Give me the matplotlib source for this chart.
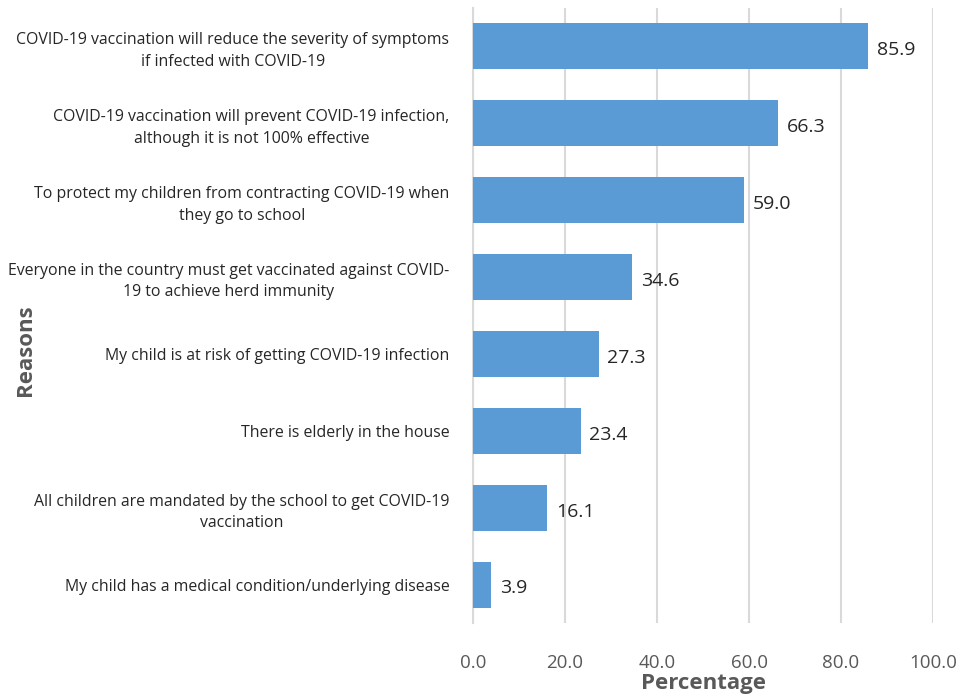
import matplotlib.pyplot as plt

plt.rcParams['font.family'] = ['Open Sans', 'DejaVu Sans']

reasons = [
    "COVID-19 vaccination will reduce the severity of symptoms\nif infected with COVID-19",
    "COVID-19 vaccination will prevent COVID-19 infection,\nalthough it is not 100% effective",
    "To protect my children from contracting COVID-19 when\nthey go to school",
    "Everyone in the country must get vaccinated against COVID-\n19 to achieve herd immunity",
    "My child is at risk of getting COVID-19 infection",
    "There is elderly in the house",
    "All children are mandated by the school to get COVID-19\nvaccination",
    "My child has a medical condition/underlying disease",
]
percent = [85.9, 66.3, 59.0, 34.6, 27.3, 23.4, 16.1, 3.9]
xticks = [0, 20, 40, 60, 80, 100]

fig = plt.figure(figsize=(9.62, 6.94), dpi=100)
ax = fig.add_axes([0.4917, 0.1023, 0.4782, 0.8862])

pos = list(range(len(reasons)))
ax.barh(pos, percent, height=0.6, color='#5b9bd5', zorder=3)
ax.set_ylim(len(reasons) - 0.5, -0.5)
ax.set_xlim(0, 100)

for p, v in zip(pos, percent):
    ax.text(v + 1.9, p + 0.05, f"{v:.1f}", va='center', ha='left',
            fontsize=14, color='#262626')

ax.set_yticks(pos)
ax.set_yticklabels(reasons, fontsize=11.4, color='#262626',
                   multialignment='center', linespacing=1.45)
ax.set_xticks(xticks)
ax.set_xticklabels([f"{t:.1f}" for t in xticks], fontsize=13.5, color='#595959')
ax.tick_params(axis='both', length=0)
ax.tick_params(axis='y', pad=17)
ax.tick_params(axis='x', pad=22)

ax.grid(axis='x', color='#d9d9d9', linewidth=1.5, zorder=0)
for s in ['top', 'right', 'bottom']:
    ax.spines[s].set_visible(False)
ax.spines['left'].set_color('#d9d9d9')
ax.spines['left'].set_linewidth(1.5)

ax.set_xlabel("Percentage", fontsize=16, fontweight='bold', color='#595959', labelpad=1)
fig.text(0.027, 0.495, "Reasons", rotation=90, fontsize=16, fontweight='bold',
         color='#595959', ha='center', va='center')

fig.savefig('out.png', dpi=100, facecolor='white')
